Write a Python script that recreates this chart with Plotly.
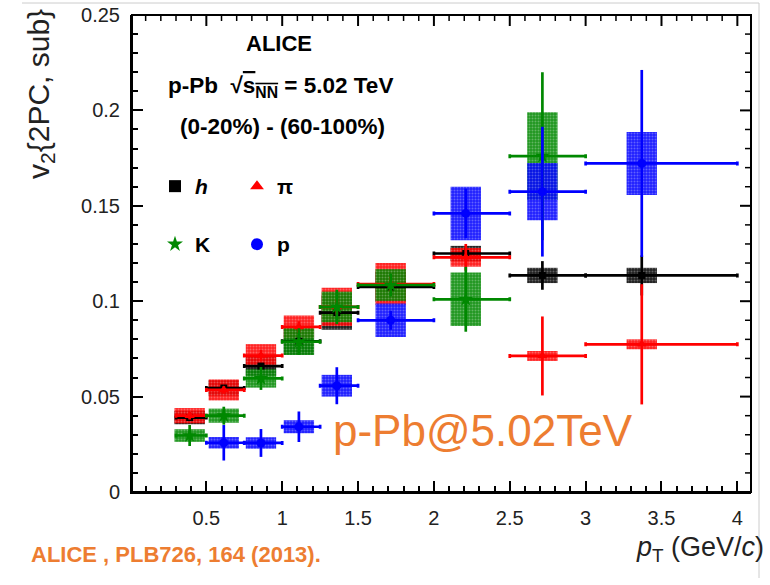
import numpy as np
import plotly.graph_objects as go

# ---------------- data ----------------
bin_lo = [0.3, 0.5, 0.75, 1.0, 1.25, 1.5, 2.0, 2.5, 3.0]
bin_hi = [0.5, 0.75, 1.0, 1.25, 1.5, 2.0, 2.5, 3.0, 4.0]
pt_mean = [0.39, 0.615, 0.86, 1.11, 1.36, 1.715, 2.21, 2.715, 3.37]

h_v2 = [0.039, 0.0545, 0.066, 0.079, 0.094, 0.1075, 0.125, 0.1135, 0.1135]
h_stat = [0.001, 0.001, 0.0015, 0.002, 0.002, 0.002, 0.003, 0.0075, 0.0105]
h_sys = [0.0035, 0.004, 0.005, 0.007, 0.009, 0.008, 0.004, 0.004, 0.004]

pi_v2 = [0.040, 0.0535, 0.0715, 0.0865, 0.097, 0.109, 0.123, 0.0713, 0.0774]
pi_stat = [0.002, 0.002, 0.003, 0.003, 0.004, 0.004, 0.007, 0.0207, 0.0315]
pi_sys = [0.004, 0.0055, 0.006, 0.006, 0.010, 0.011, 0.0049, 0.0026, 0.0026]

k_v2 = [0.0296, 0.040, 0.0595, 0.0788, 0.097, 0.1085, 0.101, 0.176]
k_stat = [0.0055, 0.0047, 0.006, 0.007, 0.009, 0.006, 0.017, 0.044]
k_sys = [0.0033, 0.0037, 0.0048, 0.007, 0.008, 0.0083, 0.014, 0.023]

p_v2 = [0.0258, 0.0257, 0.0342, 0.0557, 0.090, 0.146, 0.1574, 0.1722]
p_stat = [0.0093, 0.0073, 0.008, 0.0097, 0.005, 0.013, 0.034, 0.049]
p_sys = [0.003, 0.003, 0.0034, 0.0057, 0.0088, 0.014, 0.015, 0.0165]

x_major = [0.5, 1.0, 1.5, 2.0, 2.5, 3.0, 3.5, 4.0]
y_major = [0, 0.05, 0.1, 0.15, 0.2, 0.25]

species = [
    # name, v2, stat, sys, first bin index, color, symbol, size, legend
    ("<i>h</i>", h_v2, h_stat, h_sys, 0, "black", "square", 7, "legend"),
    ("π", pi_v2, pi_stat, pi_sys, 0, "red", "triangle-up", 9, "legend"),
    ("K", k_v2, k_stat, k_sys, 0, "#008800", "star", 11, "legend2"),
    ("p", p_v2, p_stat, p_sys, 1, "blue", "circle", 9, "legend2"),
]

ORANGE = "#ED7D31"
FONT = "Liberation Sans, Arial, sans-serif"

fig = go.Figure()

# systematic boxes
for name, v2, stat, sys, i0, col, sym, msz, leg in species:
    n = len(v2)
    x = pt_mean[i0:i0 + n]
    base = [v - s for v, s in zip(v2, sys)]
    height = [2 * s for s in sys]
    fig.add_trace(go.Bar(
        x=x, y=height, base=base, width=0.2,
        marker=dict(color=col, line=dict(width=0),
                    pattern=dict(shape=".", fillmode="overlay",
                                 fgcolor="rgba(255,255,255,0.6)",
                                 size=3, solidity=0.35)),
        opacity=0.88, showlegend=False, hoverinfo="skip"))

# points with stat errors and bin widths
for name, v2, stat, sys, i0, col, sym, msz, leg in species:
    n = len(v2)
    x = pt_mean[i0:i0 + n]
    lo = bin_lo[i0:i0 + n]
    hi = bin_hi[i0:i0 + n]
    fig.add_trace(go.Scatter(
        x=x, y=v2, mode="markers", name=name, legend=leg,
        marker=dict(color=col, symbol=sym, size=msz, line=dict(width=0)),
        error_x=dict(type="data", symmetric=False,
                     array=[h - m for h, m in zip(hi, x)],
                     arrayminus=[m - l for m, l in zip(x, lo)],
                     color=col, thickness=2.7, width=2),
        error_y=dict(type="data", array=stat, color=col, thickness=2.7, width=0),
    ))


def px(x):
    return (x - 132) / 619


def py(y):
    return (492 - y) / 477


XR = [0.01, 4.09]
YR = [0, 0.25]
tfont = dict(family=FONT, size=20, color="#222")
line_common = dict(showline=True, linewidth=2, linecolor="black",
                   showgrid=False, zeroline=False, automargin=False)
major = dict(ticks="inside", ticklen=11, tickwidth=2, tickcolor="black")
xminor = dict(ticks="inside", ticklen=6, tickwidth=1.5, tickcolor="black", dtick=0.1, tick0=0)
yminor = dict(ticks="inside", ticklen=6, tickwidth=1.5, tickcolor="black", dtick=0.01, tick0=0)

legend_common = dict(xanchor="left", yanchor="top", orientation="h",
                     entrywidth=37, entrywidthmode="pixels", itemsizing="constant",
                     bgcolor="rgba(0,0,0,0)", itemwidth=30,
                     font=dict(family=FONT, size=21, color="black", weight="bold"))

fig.update_layout(
    width=770, height=585,
    margin=dict(l=132, r=19, t=15, b=93),
    paper_bgcolor="white", plot_bgcolor="white",
    barmode="overlay",
    xaxis=dict(range=XR, tickmode="linear", tick0=0, dtick=0.5,
               ticklabelstandoff=7, tickfont=tfont, minor=xminor,
               **major, **line_common),
    yaxis=dict(range=YR, tickmode="linear", tick0=0, dtick=0.05,
               ticklabelstandoff=6, tickfont=tfont, minor=yminor,
               **major, **line_common),
    legend=dict(x=px(155), y=py(166), **legend_common),
    legend2=dict(x=px(155), y=py(224), **legend_common),
    showlegend=True,
)

# closed frame (top and right edges) with inward ticks, following the axis tick grid
fig.add_shape(type="rect", xref="paper", yref="paper", x0=0, x1=1, y0=0, y1=1,
              line=dict(color="black", width=2), fillcolor="rgba(0,0,0,0)", layer="above")
x_minor = [round(v, 2) for v in np.arange(0.1, 4.01, 0.1)]
for v in x_minor:
    is_major = any(abs(v - m) < 1e-6 for m in x_major)
    L = (11 if is_major else 6) / 477
    fig.add_shape(type="line", xref="x", yref="paper", x0=v, x1=v, y0=1, y1=1 - L,
                  line=dict(color="black", width=2 if is_major else 1.5), layer="above")
y_minor = [round(v, 3) for v in np.arange(0.01, 0.2401, 0.01)]
for v in y_minor:
    is_major = any(abs(v - m) < 1e-6 for m in y_major)
    L = (11 if is_major else 6) / 619
    fig.add_shape(type="line", xref="paper", yref="y", x0=1, x1=1 - L, y0=v, y1=v,
                  line=dict(color="black", width=2 if is_major else 1.5), layer="above")

ann = [
    dict(text="<b>ALICE</b>", x=px(279), y=py(44), size=22, color="black"),
    dict(text="<b>p-Pb  √<span style='text-decoration:overline'>s<sub>NN</sub></span> = 5.02 TeV</b>",
         x=px(280), y=py(87), size=22.5, color="black"),
    dict(text="<b>(0-20%) - (60-100%)</b>", x=px(282), y=py(127), size=22.5, color="black"),
    dict(text="p-Pb@5.02TeV", x=px(483), y=py(430), size=44, color=ORANGE),
    dict(text="<b>ALICE , PLB726, 164 (2013).</b>", x=px(176), y=py(554), size=22, color=ORANGE),
]
for a in ann:
    fig.add_annotation(text=a["text"], x=a["x"], y=a["y"], xref="paper", yref="paper",
                       showarrow=False, xanchor="center", yanchor="middle",
                       font=dict(family=FONT, size=a["size"], color=a["color"]))

fig.add_annotation(text="<i>p</i><sub>T</sub> (GeV/<i>c</i>)", x=px(766), y=py(549),
                   xref="paper", yref="paper", showarrow=False, xanchor="right",
                   yanchor="middle", font=dict(family=FONT, size=27, color="#222"))
fig.add_annotation(text="v<sub>2</sub>{2PC, sub}", x=px(41), y=py(7),
                   xref="paper", yref="paper", showarrow=False, textangle=-90,
                   xanchor="center", yanchor="top",
                   font=dict(family=FONT, size=30, color="#222"))

# slide frame artifacts
fig.add_shape(type="line", xref="paper", yref="paper", x0=px(22), x1=px(759),
              y0=py(3), y1=py(3), line=dict(color="#cccccc", width=1))
fig.add_shape(type="line", xref="paper", yref="paper", x0=px(759), x1=px(759),
              y0=py(3), y1=py(578), line=dict(color="#cccccc", width=1))

fig.write_html("out.html")
